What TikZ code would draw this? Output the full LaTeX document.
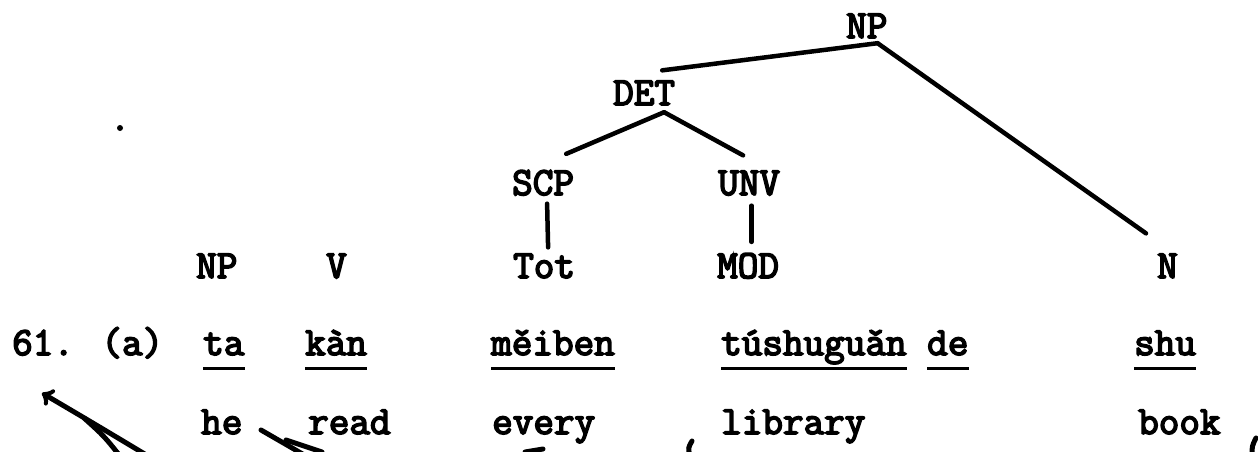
\documentclass[tikz,border=0pt]{standalone}
\usepackage{fontspec}
\newfontfamily\typer{Latin Modern Mono}[FakeBold=4]
\tikzset{
	txt/.style={font=\typer\fontsize{40}{40}\selectfont, inner sep=0pt, anchor=base west},
	branch/.style={line width=4.5pt, line cap=round},
	uline/.style={line width=3pt},
	scrawl/.style={line width=5pt, line cap=round},
}
\begin{document}
\begin{tikzpicture}[x=1pt, y=-1pt]
		\useasboundingbox (0,0) rectangle (1258,452);

		% Tree
		\node[txt] (nptop) at (846,38) {NP};
		\node[txt] (det) at (613,105) {DET};
		\node[txt] (scp) at (512,195) {SCP};
		\node[txt] (unv) at (718,195) {UNV};
		\node[txt] (tot) at (513,278) {Tot};
		\node[txt] (mod) at (717,278) {MOD};
		\node[txt] (n) at (1157,278) {N};
		\node[txt] (np) at (196,278) {NP};
		\node[txt] (v) at (326,278) {V};

		\draw[branch] ([xshift=-13pt,yshift=10pt]det.north east) -- ([xshift=-10pt,yshift=-5pt]nptop.south east);
		\draw[branch] ([xshift=-10pt,yshift=-5pt]nptop.south east) -- ([xshift=-11pt,yshift=20pt]n.north west);
		\draw[branch] ([xshift=20pt,yshift=-7pt]det.south) -- ([xshift=-8pt,yshift=16pt]scp.north east);
		\draw[branch] ([xshift=20pt,yshift=-7pt]det.south) -- ([xshift=-6pt,yshift=15pt]unv.north);
		\draw[branch] ([xshift=4pt,yshift=-8pt]scp.south) -- ([xshift=4pt,yshift=6pt]tot.north);
		\draw[branch] ([xshift=2.5pt,yshift=-10pt]unv.south) -- ([xshift=3.5pt,yshift=11pt]mod.north);

		% Sentence
		\node[txt] (num) at (12,355) {61. (a)};
		\node[txt] (ta) at (203,355) {ta};
		\node[txt] (kan) at (305,355) {kàn};
		\node[txt] (meiben) at (491,355) {měiben};
		\node[txt] (tushu) at (721,355) {túshuguǎn};
		\node[txt] (de) at (927,355) {de};
		\node[txt] (shu) at (1134,355) {shu};
		\foreach \w in {ta,kan,meiben,tushu,de,shu}
			\draw[uline] ([yshift=-13pt]\w.base west) -- ([yshift=-13pt]\w.base east);

		% Gloss
		\node[txt] (he) at (201,434) {he};
		\node[txt] (read) at (308,434) {read};
		\node[txt] (every) at (492,434) {every};
		\node[txt] (library) at (721,434) {library};
		\node[txt] (book) at (1138,434) {book};

		% Pen marks
		\draw[scrawl, ->] (148,456) .. controls (98,426) .. (42,393);
		\draw[scrawl] (120,456) .. controls (104,436) .. (84,418);
		\draw[scrawl] (306,456) -- (261,430);
		\draw[scrawl] (322,452) -- (286,440);
		\draw[scrawl] (525,452) -- (543,449);
		\draw[scrawl] (690,456) .. controls (688,448) .. (692,441);
		\draw[scrawl] (1252,456) .. controls (1252,446) .. (1256,438);
		\fill (120,128) circle (3pt);
	\end{tikzpicture}
\end{document}
